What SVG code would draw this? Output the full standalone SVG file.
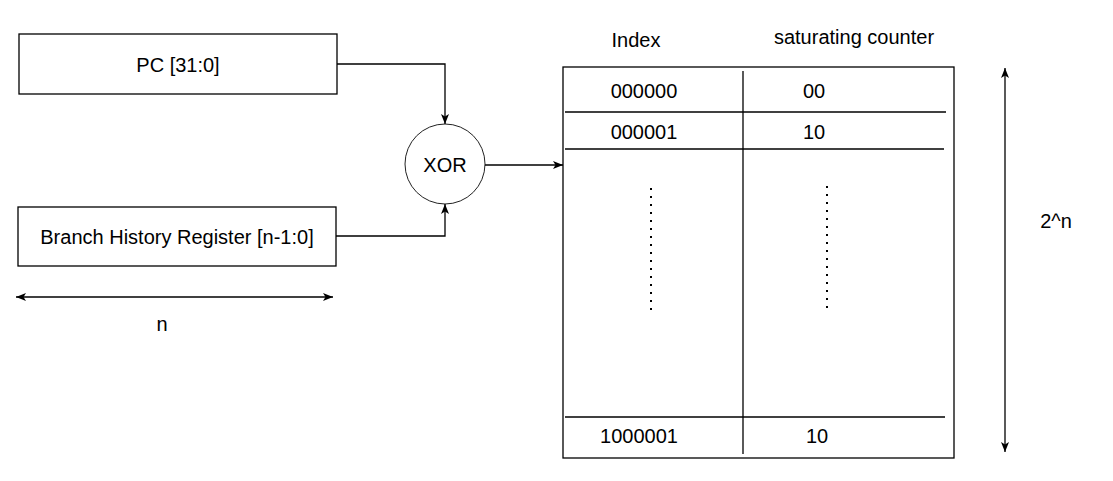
<svg xmlns="http://www.w3.org/2000/svg" width="1113" height="481" viewBox="0 0 1113 481">
<style>
.box{fill:#fff;stroke:#000;stroke-width:1.3}
.circ{fill:#fff;stroke:#222;stroke-width:1}
.ln{fill:none;stroke:#000;stroke-width:1.3}
.t{font-family:"Liberation Sans",Arial,sans-serif;font-size:20px;fill:#000}
.c{text-anchor:middle}
.dot{fill:none;stroke:#000;stroke-width:2;stroke-dasharray:2 6}
</style>
<defs>
<marker id="arr" viewBox="0 0 10 8" refX="10" refY="4" markerWidth="10" markerHeight="8" markerUnits="userSpaceOnUse" orient="auto-start-reverse">
<path d="M0,0 L10,4 L0,8 L2.5,4 Z" fill="#000"/>
</marker>
</defs>
<rect width="1113" height="481" fill="#fff"/>
<g id="pc">
<rect class="box" x="19" y="34" width="318" height="60"/>
<text class="t c" x="178" y="72">PC [31:0]</text>
</g>
<g id="bhr">
<rect class="box" x="18" y="207" width="318" height="59"/>
<text class="t c" x="177" y="244">Branch History Register [n-1:0]</text>
</g>
<g id="xor">
<circle class="circ" cx="445" cy="164" r="40"/>
<text class="t c" x="445" y="172">XOR</text>
</g>
<g id="table">
<rect class="box" x="563" y="67" width="391" height="391"/>
<line class="ln" x1="743" y1="71" x2="743" y2="454"/>
<line class="ln" x1="565" y1="112" x2="946" y2="112"/>
<line class="ln" x1="565" y1="149" x2="944" y2="149"/>
<line class="ln" x1="565" y1="417" x2="945" y2="417"/>
<line class="dot" x1="651" y1="188" x2="651" y2="312"/>
<line class="dot" x1="827" y1="186" x2="827" y2="310"/>
<text class="t c" x="644" y="98">000000</text>
<text class="t c" x="814" y="98">00</text>
<text class="t c" x="644" y="139">000001</text>
<text class="t c" x="814" y="139">10</text>
<text class="t c" x="639" y="443">1000001</text>
<text class="t c" x="817" y="443">10</text>
</g>
<g id="headers">
<text class="t c" x="636" y="47">Index</text>
<text class="t c" x="854" y="44">saturating counter</text>
</g>
<g id="connectors">
<path class="ln" d="M337,64 H445 V124" marker-end="url(#arr)"/>
<path class="ln" d="M336,236 H445 V204" marker-end="url(#arr)"/>
<path class="ln" d="M485,165 H563" marker-end="url(#arr)"/>
<path class="ln" d="M16,297 H333" marker-start="url(#arr)" marker-end="url(#arr)"/>
<path class="ln" d="M1005,68 V452" marker-start="url(#arr)" marker-end="url(#arr)"/>
</g>
<g id="labels">
<text class="t c" x="162" y="331">n</text>
<text class="t c" x="1056" y="228">2^n</text>
</g>
</svg>
